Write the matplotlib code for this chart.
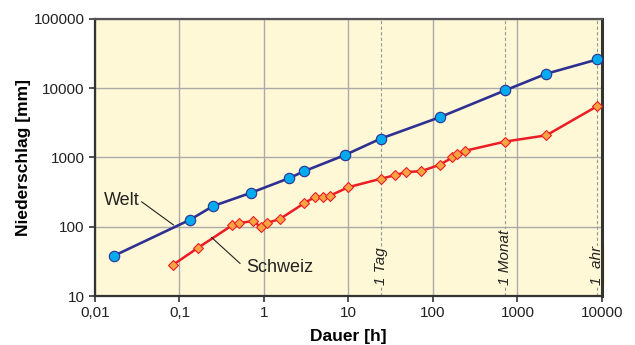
import numpy as np
import matplotlib as mpl
mpl.use("Agg")
import matplotlib.pyplot as plt
from matplotlib import transforms

mpl.rcParams['font.family'] = ['Liberation Sans', 'DejaVu Sans']

# Niederschlag vs. Dauer, Welt- und Schweizer Rekorde
welt_h = [0.0167, 0.133, 0.25, 0.7, 2, 3, 9, 24, 120, 720, 2200, 8760]
welt_mm = [38, 126, 199, 309, 505, 635, 1080, 1870, 3810, 9350, 16200, 26000]

schweiz_h = [0.083, 0.167, 0.42, 0.5, 0.75, 0.92, 1.08, 1.55, 3, 4, 5, 6, 10,
             24, 36, 48, 72, 120, 170, 195, 240, 720, 2200, 8760]
schweiz_mm = [28, 50, 105, 113, 121, 98, 113, 130, 219, 269, 269, 280, 373,
              492, 557, 618, 632, 786, 1000, 1120, 1250, 1700, 2090, 5510]

x_ticks = [0.01, 0.1, 1, 10, 100, 1000, 10000]
x_labels = ['0,01', '0,1', '1', '10', '100', '1000', '10000']
y_ticks = [10, 100, 1000, 10000, 100000]
y_labels = ['10', '100', '1000', '10000', '100000']

marks_h = [24, 720, 8760]
marks_txt = ['1 Tag', '1 Monat', '1  ahr']

bg = '#fff8d6'

fig = plt.figure(figsize=(6.35, 3.45), dpi=100)
ax = fig.add_axes([0.1496, 0.142, 0.7984, 0.803])
ax.set_facecolor(bg)
ax.set_xscale('log')
ax.set_yscale('log')
ax.set_xlim(0.01, 10000)
ax.set_ylim(10, 100000)

ax.set_xticks(x_ticks)
ax.set_xticklabels(x_labels)
ax.set_yticks(y_ticks)
ax.set_yticklabels(y_labels)
ax.minorticks_off()
ax.tick_params(labelsize=11, labelcolor='#222222', length=4, width=1.2,
               color='#333333', direction='out')
ax.grid(True, color='#aaaaaa', linewidth=1.0, zorder=0)
ax.set_axisbelow(True)

for s in ax.spines.values():
    s.set_color('#333333')
    s.set_linewidth(1.6)
ax.spines['right'].set_linewidth(2.2)
ax.spines['top'].set_color('#555555')

# markante Dauern
blend = transforms.blended_transform_factory(ax.transData, ax.transAxes)
for h, t in zip(marks_h, marks_txt):
    ax.axvline(h, color='#999999', linestyle=(0, (3, 2)), linewidth=0.8,
               zorder=1)
    ax.text(h, 0.038, t, transform=blend, rotation=90, ha='center',
            va='bottom', fontsize=11, style='italic', color='#222222',
            bbox=dict(facecolor=bg, edgecolor='none', pad=0.5), zorder=2)

ax.plot(welt_h, welt_mm, '-o', color='#2e3192', lw=1.9, ms=7.5,
        markerfacecolor='#00aaee', markeredgecolor='#2e3192',
        markeredgewidth=0.8, zorder=4, clip_on=False)
ax.plot(schweiz_h, schweiz_mm, '-D', color='#ed1c24', lw=1.8, ms=5.3,
        markerfacecolor='#f7a541', markeredgecolor='#ed1c24',
        markeredgewidth=0.8, zorder=3, clip_on=False)

# Beschriftung mit Hinweislinien
ax.text(0.021, 237, 'Welt', fontsize=13, color='#222222',
        ha='center', va='center')
ax.plot([0.0357, 0.085], [229, 106], color='#222222', lw=0.8, zorder=5)
ax.text(1.55, 26, 'Schweiz', fontsize=13, color='#222222',
        ha='center', va='center')
ax.plot([0.52, 0.24], [29.6, 70], color='#222222', lw=0.8, zorder=5)

ax.set_xlabel('Dauer [h]', fontsize=12.5, fontweight='bold', labelpad=6)
ax.set_ylabel('Niederschlag [mm]', fontsize=12.5, fontweight='bold',
              labelpad=2)

fig.savefig('out.png', dpi=100)
